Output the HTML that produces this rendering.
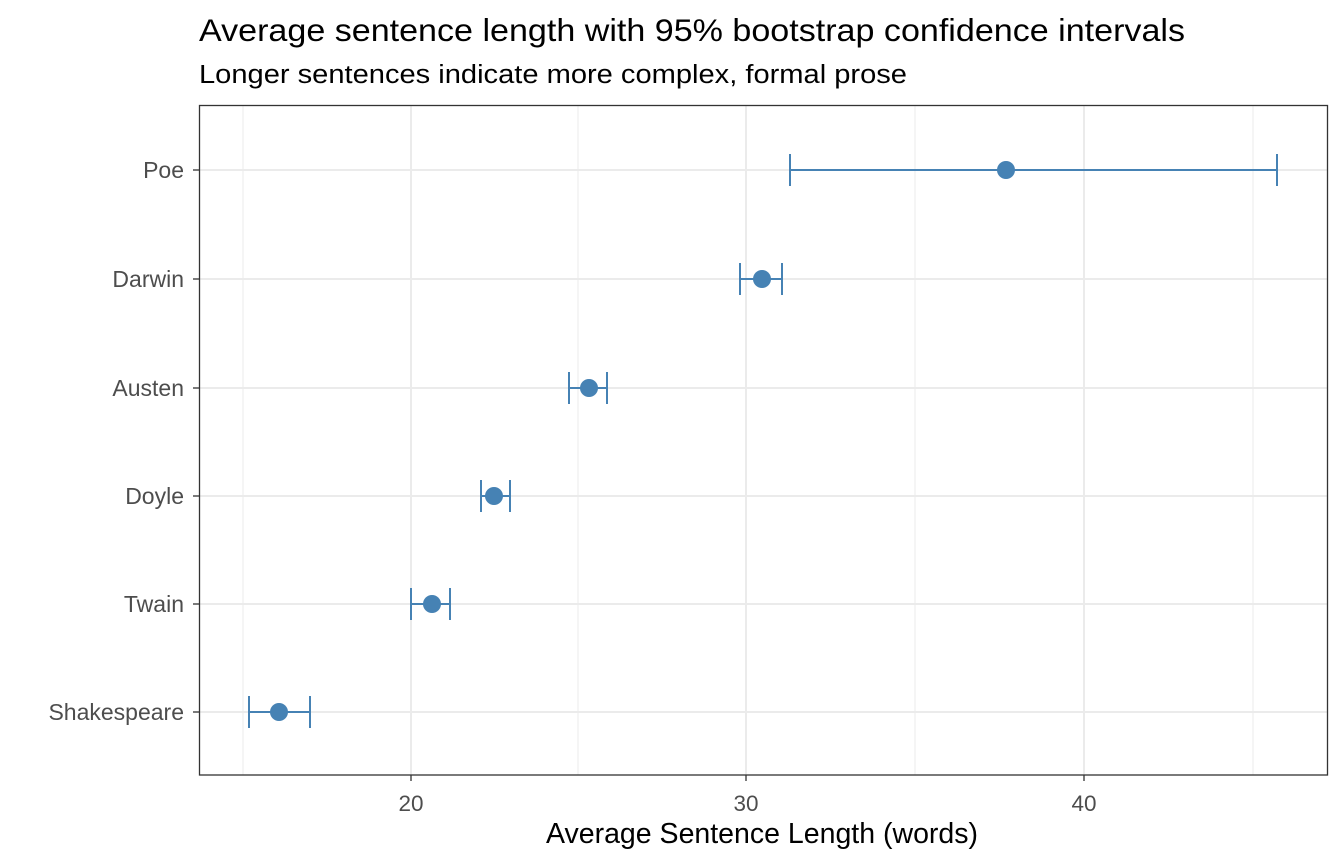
<!DOCTYPE html>
<html><head><meta charset="utf-8"><style>body{margin:0;background:#fff}svg{display:block}text{font-family:"Liberation Sans",Arial,sans-serif}</style></head><body>
<svg width="1344" height="864" xmlns="http://www.w3.org/2000/svg">
<rect width="1344" height="864" fill="#fff"/>
<text x="199" y="41" font-size="31.5" fill="#000" textLength="986" lengthAdjust="spacingAndGlyphs">Average sentence length with 95% bootstrap confidence intervals</text>
<text x="199" y="83" font-size="25.5" fill="#000" textLength="708" lengthAdjust="spacingAndGlyphs">Longer sentences indicate more complex, formal prose</text>
<g stroke="#ebebeb" stroke-width="1">
<line x1="243" y1="105" x2="243" y2="775"/><line x1="578" y1="105" x2="578" y2="775"/><line x1="915" y1="105" x2="915" y2="775"/><line x1="1253" y1="105" x2="1253" y2="775"/>
</g>
<g stroke="#ebebeb" stroke-width="2">
<line x1="411" y1="105" x2="411" y2="775"/><line x1="746" y1="105" x2="746" y2="775"/><line x1="1084" y1="105" x2="1084" y2="775"/>
<line x1="199" y1="170" x2="1328" y2="170"/><line x1="199" y1="279" x2="1328" y2="279"/><line x1="199" y1="388" x2="1328" y2="388"/><line x1="199" y1="496" x2="1328" y2="496"/><line x1="199" y1="604" x2="1328" y2="604"/><line x1="199" y1="712" x2="1328" y2="712"/>
</g>
<g stroke="#4682B4" stroke-width="2" fill="none">
<path d="M790 170H1277M790 154V186M1277 154V186"/>
<path d="M740 279H782M740 263V295M782 263V295"/>
<path d="M569 388H607M569 372V404M607 372V404"/>
<path d="M481 496H510M481 480V512M510 480V512"/>
<path d="M411 604H450M411 588V620M450 588V620"/>
<path d="M249 712H310M249 696V728M310 696V728"/>
</g>
<g fill="#4682B4">
<circle cx="1006" cy="170" r="9"/><circle cx="762" cy="279" r="9"/><circle cx="589" cy="388" r="9"/><circle cx="494" cy="496" r="9"/><circle cx="432" cy="604" r="9"/><circle cx="279" cy="712" r="9"/>
</g>
<rect x="199.5" y="105.5" width="1128" height="669.5" fill="none" stroke="#333" stroke-width="1.3"/>
<g stroke="#333" stroke-width="1.3">
<line x1="193" y1="170" x2="199" y2="170"/><line x1="193" y1="279" x2="199" y2="279"/><line x1="193" y1="388" x2="199" y2="388"/><line x1="193" y1="496" x2="199" y2="496"/><line x1="193" y1="604" x2="199" y2="604"/><line x1="193" y1="712" x2="199" y2="712"/>
<line x1="411" y1="775" x2="411" y2="781"/><line x1="746" y1="775" x2="746" y2="781"/><line x1="1084" y1="775" x2="1084" y2="781"/>
</g>
<g font-size="23" fill="#4d4d4d" text-anchor="end">
<text x="184" y="178">Poe</text><text x="184" y="287">Darwin</text><text x="184" y="396">Austen</text><text x="184" y="504">Doyle</text><text x="184" y="612">Twain</text><text x="184" y="720">Shakespeare</text>
</g>
<g font-size="22.5" fill="#4d4d4d" text-anchor="middle">
<text x="411" y="811">20</text><text x="746" y="811">30</text><text x="1084" y="811">40</text>
</g>
<text x="762" y="843" font-size="28.5" text-anchor="middle" fill="#000">Average Sentence Length (words)</text>
</svg>
</body></html>
